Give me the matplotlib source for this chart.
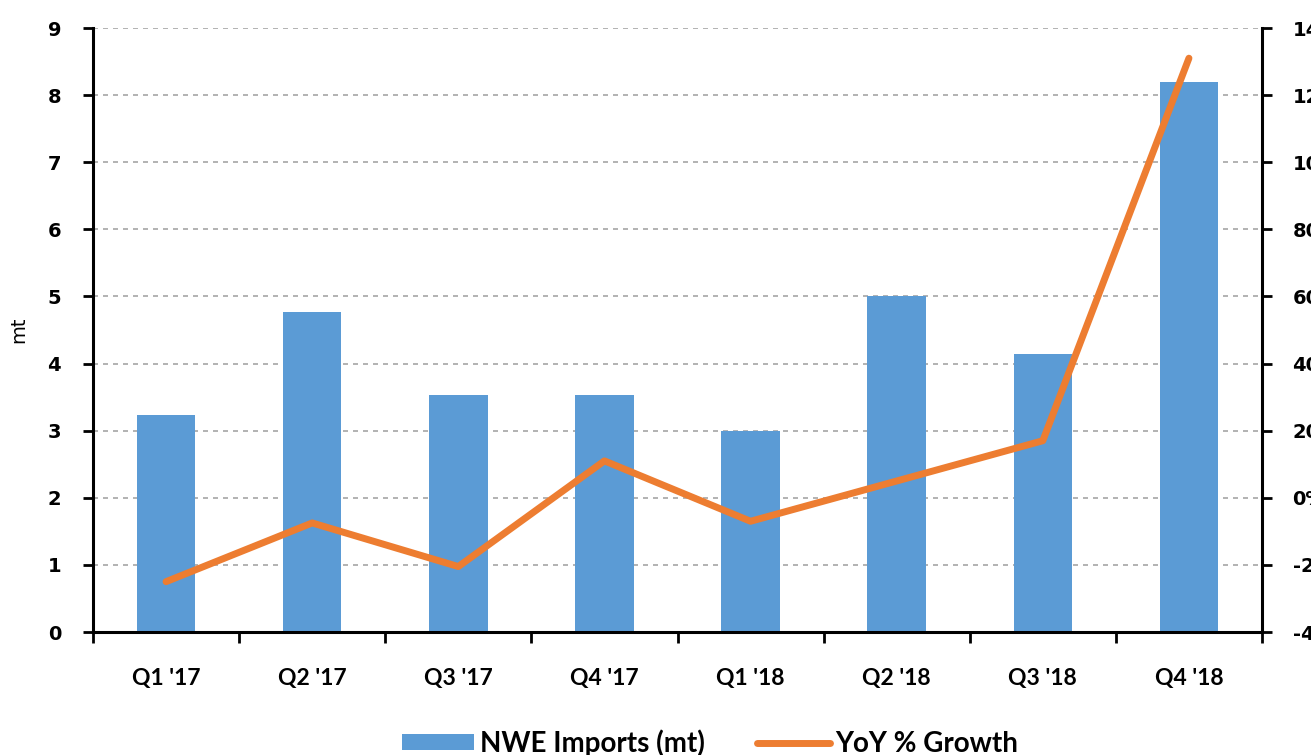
import matplotlib
matplotlib.use("Agg")
import matplotlib.pyplot as plt
from matplotlib.ticker import FixedLocator, FuncFormatter
import numpy as np

categories = ["Q1 '17", "Q2 '17", "Q3 '17", "Q4 '17", "Q1 '18", "Q2 '18", "Q3 '18", "Q4 '18"]
imports_mt = [3.23, 4.77, 3.53, 3.53, 2.99, 5.0, 4.14, 8.2]
yoy_growth = [-25.0, -7.5, -20.5, 11.0, -7.0, 5.0, 17.0, 131.0]

BAR_C = "#5B9BD5"
LINE_C = "#ED7D31"

fig = plt.figure(figsize=(13.11, 7.55), dpi=100)
ax = fig.add_axes([93/1311, 1-632/755, (1262-93)/1311, (632-28)/755])
x = np.arange(len(categories))

bars = ax.bar(x, imports_mt, width=0.4, color=BAR_C, zorder=2, label="NWE Imports (mt)")
ax.set_xlim(-0.5, len(categories)-0.5)
ax.set_ylim(0, 9)
ax.set_yticks(range(0, 10))
ax.set_axisbelow(True)
ax.grid(axis="y", color="#a6a6a6", linestyle=(0, (3, 3)), linewidth=1.2)
ax.set_ylabel("mt", fontsize=14, fontfamily="DejaVu Sans", labelpad=14)

ax.set_xticks(x)
ax.set_xticklabels(categories, fontfamily="Lato", fontweight="bold", fontsize=16.5)
ax.xaxis.set_minor_locator(FixedLocator(np.arange(-0.5, len(categories), 1.0)))
ax.tick_params(axis="x", which="major", length=0, pad=26)
ax.tick_params(axis="x", which="minor", length=8, width=2, direction="out")
ax.tick_params(axis="y", length=7, width=2, pad=16, labelsize=14)
for lab in ax.get_yticklabels():
    lab.set_fontweight("bold")

for s in ["left", "bottom"]:
    ax.spines[s].set_linewidth(2.2)
ax.spines["top"].set_visible(False)
ax.spines["right"].set_visible(False)

ax2 = ax.twinx()
line, = ax2.plot(x, yoy_growth, color=LINE_C, linewidth=5, solid_capstyle="round",
                 solid_joinstyle="round", zorder=3, label="YoY % Growth")
ax2.set_ylim(-40, 140)
ax2.set_yticks(range(-40, 141, 20))
ax2.yaxis.set_major_formatter(FuncFormatter(lambda v, p: f"{int(v)}%"))
ax2.tick_params(axis="y", length=7, width=2, pad=15, labelsize=14)
for lab in ax2.get_yticklabels():
    lab.set_fontweight("bold")
ax2.spines["right"].set_linewidth(2.2)
for s in ["top", "left", "bottom"]:
    ax2.spines[s].set_visible(False)

fig.legend([bars, line], ["NWE Imports (mt)", "YoY % Growth"], loc="center",
           bbox_to_anchor=(710/1311, 1-743/755), ncol=2, frameon=False,
           prop={"family": "Lato", "weight": "bold", "size": 20},
           handlelength=2.6, handletextpad=0.2, columnspacing=1.9, handleheight=0.55)

fig.savefig("out.png", dpi=100)
